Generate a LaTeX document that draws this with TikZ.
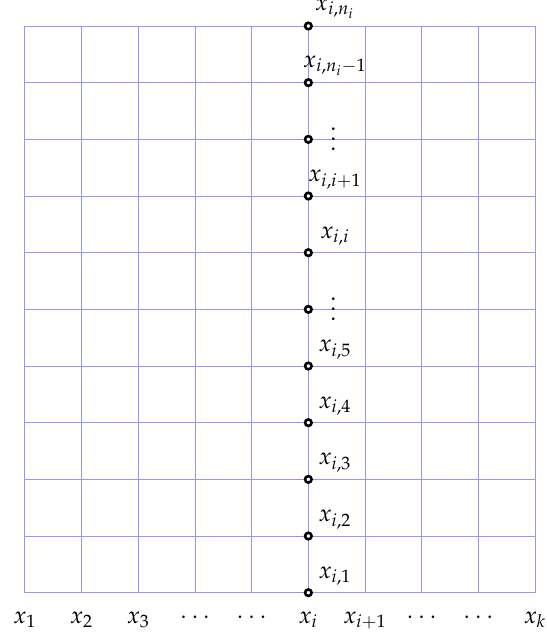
\documentclass[tikz,border=0pt]{standalone}
\usepackage{mathpazo}
\newcommand\myvdots{\vbox{\baselineskip5pt \lineskiplimit0pt \hbox{$.$}\hbox{$.$}\hbox{$.$}}}
\begin{document}
\begin{tikzpicture}[
  gridline/.style={draw=blue!42, line width=0.5pt},
  pt/.style={circle, draw=black, fill=white, line width=1.3pt, inner sep=0pt, minimum size=0.115cm},
  plab/.style={anchor=south, inner sep=0pt, font=\large},
  vlab/.style={inner sep=0pt, font=\large},
  blab/.style={anchor=base, inner sep=0pt, font=\large},
]
\useasboundingbox (-0.441,-0.764) rectangle (9.194,10.459);
\draw[gridline] (0,0) grid (9,10);
% points on column x_i
\foreach \j in {0,...,10} {
  \node[pt] (p\j) at (5,\j) {};
}
% point labels
\node[plab] (l0) at (5.47,0.12) {$x_{i,1}$};
\node[plab] (l1) at (5.47,1.12) {$x_{i,2}$};
\node[plab] (l2) at (5.47,2.12) {$x_{i,3}$};
\node[plab] (l3) at (5.47,3.12) {$x_{i,4}$};
\node[plab] (l4) at (5.47,4.12) {$x_{i,5}$};
\node[vlab] (l5) at (5.44,5) {\myvdots};
\node[plab] (l6) at (5.47,6.12) {$x_{i,i}$};
\node[plab] (l7) at (5.47,7.12) {$x_{i,i+1}$};
\node[vlab] (l8) at (5.44,8) {\myvdots};
\node[plab] (l9) at (5.47,9.12) {$x_{i,n_i-1}$};
\node[plab] (l10) at (5.47,10.12) {$x_{i,n_i}$};
% bottom labels
\node[blab] (b0) at (0,-0.535) {$x_1$};
\node[blab] (b1) at (1,-0.535) {$x_2$};
\node[blab] (b2) at (2,-0.535) {$x_3$};
\node[blab] (b3) at (3,-0.535) {$\cdots$};
\node[blab] (b4) at (4,-0.535) {$\cdots$};
\node[blab] (b5) at (5,-0.535) {$x_i$};
\node[blab] (b6) at (6,-0.535) {$x_{i+1}$};
\node[blab] (b7) at (7,-0.535) {$\cdots$};
\node[blab] (b8) at (8,-0.535) {$\cdots$};
\node[blab] (b9) at (9,-0.535) {$x_k$};
\end{tikzpicture}
\end{document}
